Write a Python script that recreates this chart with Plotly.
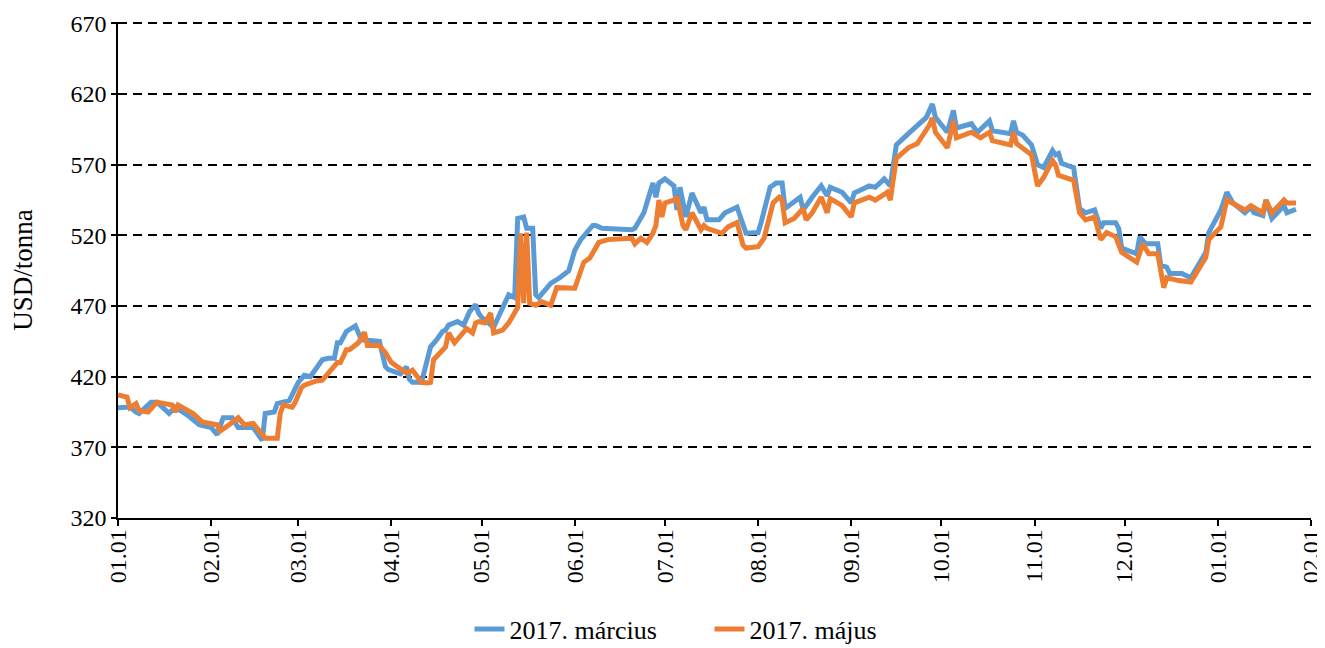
import plotly.graph_objects as go

marcius_dates = [
    "2016-01-01", "2016-01-05", "2016-01-07", "2016-01-08", "2016-01-12", "2016-01-14", "2016-01-18",
    "2016-01-20", "2016-01-24", "2016-01-28", "2016-02-01", "2016-02-03", "2016-02-05", "2016-02-08",
    "2016-02-10", "2016-02-15", "2016-02-18", "2016-02-19", "2016-02-22", "2016-02-23", "2016-02-27",
    "2016-03-01", "2016-03-03", "2016-03-05", "2016-03-09", "2016-03-11", "2016-03-13", "2016-03-14",
    "2016-03-15", "2016-03-17", "2016-03-20", "2016-03-22", "2016-03-23", "2016-03-28", "2016-03-30",
    "2016-03-31", "2016-04-04", "2016-04-06", "2016-04-07", "2016-04-08", "2016-04-11", "2016-04-13",
    "2016-04-14", "2016-04-16", "2016-04-18", "2016-04-19", "2016-04-20", "2016-04-23", "2016-04-25",
    "2016-04-27", "2016-04-29", "2016-04-30", "2016-05-01", "2016-05-05", "2016-05-10", "2016-05-12",
    "2016-05-13", "2016-05-15", "2016-05-16", "2016-05-18", "2016-05-19", "2016-05-20", "2016-05-24",
    "2016-05-27", "2016-05-30", "2016-06-01", "2016-06-03", "2016-06-07", "2016-06-08", "2016-06-10",
    "2016-06-20", "2016-06-21", "2016-06-24", "2016-06-27", "2016-06-28", "2016-06-29", "2016-07-01",
    "2016-07-04", "2016-07-05", "2016-07-06", "2016-07-08", "2016-07-10", "2016-07-13", "2016-07-14",
    "2016-07-15", "2016-07-19", "2016-07-21", "2016-07-25", "2016-07-28", "2016-08-01", "2016-08-02",
    "2016-08-05", "2016-08-07", "2016-08-09", "2016-08-10", "2016-08-15", "2016-08-16", "2016-08-19",
    "2016-08-22", "2016-08-24", "2016-08-25", "2016-08-29", "2016-09-01", "2016-09-02", "2016-09-07",
    "2016-09-09", "2016-09-12", "2016-09-14", "2016-09-16", "2016-09-20", "2016-09-22", "2016-09-26",
    "2016-09-28", "2016-09-29", "2016-10-03", "2016-10-05", "2016-10-06", "2016-10-11", "2016-10-13",
    "2016-10-17", "2016-10-18", "2016-10-24", "2016-10-25", "2016-10-26", "2016-10-28", "2016-10-31",
    "2016-11-02", "2016-11-04", "2016-11-07", "2016-11-08", "2016-11-09", "2016-11-10", "2016-11-14",
    "2016-11-16", "2016-11-18", "2016-11-21", "2016-11-23", "2016-11-24", "2016-11-28", "2016-11-29",
    "2016-11-30", "2016-12-05", "2016-12-06", "2016-12-08", "2016-12-12", "2016-12-13", "2016-12-15",
    "2016-12-16", "2016-12-20", "2016-12-23", "2016-12-28", "2016-12-29", "2017-01-02", "2017-01-04",
    "2017-01-06", "2017-01-10", "2017-01-12", "2017-01-13", "2017-01-16", "2017-01-17", "2017-01-19",
    "2017-01-20", "2017-01-23", "2017-01-24", "2017-01-27",
]
marcius_values = [
    398, 398.5, 395, 394, 402, 402, 394,
    398.5, 393, 386, 384, 379, 391, 391,
    384, 384, 375, 394, 395, 401, 403,
    416, 421, 420, 432, 433, 433, 444,
    444, 452, 456, 446, 446, 445, 427,
    425, 422, 427, 418, 416, 416, 432,
    441, 446, 452, 453, 456.5, 459, 456.5,
    466, 471, 465, 462, 455, 478, 476,
    532, 533, 525, 525, 478, 476, 486,
    490, 495, 509.5, 517, 527, 527, 525,
    524, 525, 536, 557, 547, 557, 560,
    555, 538, 554, 533, 550, 536, 540,
    531, 531, 536, 540, 521.5, 522, 529,
    554, 557, 557, 539, 547, 538, 547,
    555, 548, 554, 550.5, 543, 550, 555,
    554, 560, 555, 584, 592, 596, 603.5,
    613, 603.5, 593, 608.5, 596, 599, 593,
    601, 594, 592, 601, 593, 591, 584,
    570, 568, 580, 577, 578, 571, 568,
    539, 536, 538, 525, 529, 529, 525,
    511, 507, 519, 514, 514, 499, 497.5,
    493, 493, 490, 508, 522, 538, 550.5,
    543, 536, 540, 536, 534, 545, 532,
    534, 541, 536, 538.5,
]

majus_dates = [
    "2016-01-01", "2016-01-04", "2016-01-05", "2016-01-07", "2016-01-08", "2016-01-11", "2016-01-14",
    "2016-01-19", "2016-01-20", "2016-01-21", "2016-01-26", "2016-01-29", "2016-02-03", "2016-02-04",
    "2016-02-07", "2016-02-10", "2016-02-12", "2016-02-15", "2016-02-19", "2016-02-23", "2016-02-24",
    "2016-02-25", "2016-02-28", "2016-02-29", "2016-03-02", "2016-03-03", "2016-03-07", "2016-03-09",
    "2016-03-11", "2016-03-14", "2016-03-15", "2016-03-17", "2016-03-18", "2016-03-21", "2016-03-23",
    "2016-03-24", "2016-03-28", "2016-03-30", "2016-04-01", "2016-04-06", "2016-04-08", "2016-04-11",
    "2016-04-13", "2016-04-14", "2016-04-15", "2016-04-16", "2016-04-18", "2016-04-19", "2016-04-20",
    "2016-04-22", "2016-04-26", "2016-04-28", "2016-04-29", "2016-04-30", "2016-05-02", "2016-05-04",
    "2016-05-05", "2016-05-08", "2016-05-10", "2016-05-13", "2016-05-14", "2016-05-15", "2016-05-16",
    "2016-05-17", "2016-05-19", "2016-05-21", "2016-05-24", "2016-05-26", "2016-06-01", "2016-06-04",
    "2016-06-06", "2016-06-09", "2016-06-12", "2016-06-20", "2016-06-21", "2016-06-23", "2016-06-25",
    "2016-06-27", "2016-06-28", "2016-06-29", "2016-06-30", "2016-07-01", "2016-07-04", "2016-07-05",
    "2016-07-07", "2016-07-08", "2016-07-10", "2016-07-13", "2016-07-14", "2016-07-15", "2016-07-20",
    "2016-07-22", "2016-07-25", "2016-07-27", "2016-07-28", "2016-08-01", "2016-08-03", "2016-08-06",
    "2016-08-08", "2016-08-09", "2016-08-10", "2016-08-13", "2016-08-16", "2016-08-17", "2016-08-19",
    "2016-08-22", "2016-08-24", "2016-08-25", "2016-08-29", "2016-09-01", "2016-09-02", "2016-09-07",
    "2016-09-09", "2016-09-13", "2016-09-14", "2016-09-16", "2016-09-20", "2016-09-23", "2016-09-27",
    "2016-09-28", "2016-09-29", "2016-10-03", "2016-10-05", "2016-10-06", "2016-10-11", "2016-10-14",
    "2016-10-17", "2016-10-18", "2016-10-24", "2016-10-25", "2016-10-26", "2016-10-28", "2016-10-31",
    "2016-11-02", "2016-11-04", "2016-11-07", "2016-11-08", "2016-11-09", "2016-11-14", "2016-11-16",
    "2016-11-18", "2016-11-21", "2016-11-23", "2016-11-25", "2016-11-28", "2016-11-30", "2016-12-05",
    "2016-12-07", "2016-12-09", "2016-12-12", "2016-12-14", "2016-12-15", "2016-12-19", "2016-12-23",
    "2016-12-28", "2016-12-29", "2017-01-02", "2017-01-04", "2017-01-07", "2017-01-10", "2017-01-12",
    "2017-01-16", "2017-01-17", "2017-01-19", "2017-01-23", "2017-01-24", "2017-01-27",
]
majus_values = [
    407, 405.6, 398, 401, 396, 395, 402,
    400, 395, 400, 394, 388, 386, 381.5,
    386, 391, 386, 387, 376.5, 376.5, 394,
    400, 398.5, 402, 412, 414, 417, 417.6,
    422.5, 430, 430, 439, 439, 444, 451.5,
    442, 442, 437, 430, 422.5, 424.6, 416,
    415.5, 416, 432, 434, 439, 441, 451,
    444, 454, 451, 458, 459, 458, 465,
    451, 453, 458, 469, 521.5, 472, 522,
    472, 470.6, 473, 470.6, 483, 482.6, 501,
    504, 515, 517, 518, 514, 518, 515,
    521.5, 527, 545, 533, 543, 545, 547,
    527, 524, 536, 524, 527, 525, 521.5,
    526, 529, 513, 511, 512, 518, 543,
    547, 545, 529, 532, 539, 531, 536,
    547, 536, 546, 541, 533, 543, 547,
    545, 550.5, 545, 574.5, 582, 585, 598,
    603, 593, 582, 601, 589, 593, 589,
    593, 587, 584, 593, 585, 582, 577,
    555, 561, 573, 570, 562.5, 559, 536,
    531, 533, 517, 522, 519, 508, 501,
    514, 507, 507, 483, 490, 488, 487,
    504.5, 517, 526, 545, 541, 538, 541,
    536, 545, 536, 545, 543, 543,
]

tick_dates = ["2016-01-01", "2016-02-01", "2016-03-01", "2016-04-01", "2016-05-01", "2016-06-01",
              "2016-07-01", "2016-08-01", "2016-09-01", "2016-10-01", "2016-11-01", "2016-12-01",
              "2017-01-01", "2017-02-01"]
tick_labels = ["01.01", "02.01", "03.01", "04.01", "05.01", "06.01", "07.01", "08.01",
               "09.01", "10.01", "11.01", "12.01", "01.01", "02.01"]
y_ticks = [320, 370, 420, 470, 520, 570, 620, 670]

series_names = ["2017. március", "2017. május"]
series_colors = ["#5B9BD5", "#ED7D31"]

FONT = "Liberation Serif, Times New Roman, serif"

fig = go.Figure()
fig.add_trace(go.Scatter(x=marcius_dates, y=marcius_values, mode="lines", name=series_names[0],
                         line=dict(color=series_colors[0], width=5)))
fig.add_trace(go.Scatter(x=majus_dates, y=majus_values, mode="lines", name=series_names[1],
                         line=dict(color=series_colors[1], width=5)))

fig.update_layout(
    width=1325, height=648,
    margin=dict(l=110, r=22, t=14, b=138, autoexpand=False),
    paper_bgcolor="white", plot_bgcolor="white",
    font=dict(family=FONT, size=24, color="black"),
    showlegend=True,
    legend=dict(orientation="h", x=0.4958, xanchor="center", y=-0.224, yanchor="middle",
                font=dict(family=FONT, size=26, color="black"),
                entrywidth=195, entrywidthmode="pixels",
                tracegroupgap=0, bgcolor="rgba(0,0,0,0)"),
)
fig.update_xaxes(
    type="date", automargin=False,
    range=["2016-01-01", "2017-02-01"],
    tickmode="array", tickvals=tick_dates, ticktext=tick_labels,
    tickangle=-90, ticks="outside", ticklen=6, tickwidth=1.5, tickcolor="black",
    ticklabelstandoff=-6,
    showline=True, linecolor="black", linewidth=1.5,
    showgrid=False, zeroline=False,
    tickfont=dict(family=FONT, size=24, color="black"),
)
fig.update_yaxes(
    automargin=False,
    range=[320, 671], tickmode="array", tickvals=y_ticks,
    ticks="outside", ticklen=5, tickwidth=1.5, tickcolor="black",
    showline=True, linecolor="black", linewidth=1.5,
    showgrid=True, gridcolor="black", gridwidth=1.6, griddash="9px,6px",
    zeroline=False,
    title=dict(text="USD/tonna", font=dict(family=FONT, size=27, color="black"), standoff=45),
    tickfont=dict(family=FONT, size=24, color="black"),
)

fig.write_html("out.html")
